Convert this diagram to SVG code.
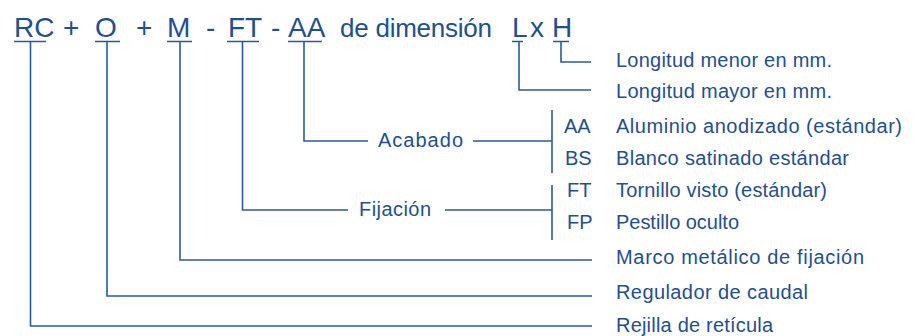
<svg xmlns="http://www.w3.org/2000/svg" width="916" height="336" viewBox="0 0 916 336">
<style>
text{font-family:"Liberation Sans",Arial,sans-serif;fill:#1f4f8f}
.top{font-size:28px}
.lbl{font-size:20px}
.ln{fill:none;stroke:#2a5a9a;stroke-width:1.6}
</style>
<rect width="916" height="336" fill="#fff"/>
<g id="code">
<text class="top" x="14" y="37">RC</text>
<text class="top" x="63" y="37">+</text>
<text class="top" x="95" y="37">O</text>
<text class="top" x="136" y="37">+</text>
<text class="top" x="167" y="37">M</text>
<text class="top" x="206" y="37">-</text>
<text class="top" x="228" y="37">FT</text>
<text class="top" x="271" y="37">-</text>
<text class="top" x="288" y="37">AA</text>
<text class="top" x="340" y="37" style="font-size:26px" textLength="152">de dimensión</text>
<text class="top" x="512" y="37">L</text>
<text class="top" x="530" y="37">x</text>
<text class="top" x="552" y="37">H</text>
</g>
<g id="underlines">
<path class="ln" d="M14 41.5H46M95 41.5H120M167 41.5H192M227 41.5H259M288 41.5H322M512 41.5H523M553 41.5H569"/>
</g>
<g id="connectors">
<path class="ln" d="M561 41.5V62H591"/>
<path class="ln" d="M519 41.5V90H591"/>
<path class="ln" d="M304 41.5V141H368M473 141H552"/>
<path class="ln" d="M552 110V173"/>
<path class="ln" d="M242.5 41.5V210H348M445 210H552"/>
<path class="ln" d="M552 185V240"/>
<path class="ln" d="M180 41.5V260H592"/>
<path class="ln" d="M107 41.5V296H592"/>
<path class="ln" d="M30.5 41.5V326H592"/>
</g>
<g id="acabado"><text class="lbl" x="378" y="147" textLength="85">Acabado</text></g>
<g id="fijacion"><text class="lbl" x="359" y="216" textLength="72">Fijación</text></g>
<g id="codes">
<text class="lbl" x="564" y="133">AA</text>
<text class="lbl" x="565" y="165">BS</text>
<text class="lbl" x="567" y="197">FT</text>
<text class="lbl" x="567" y="229">FP</text>
</g>
<g id="labels">
<text class="lbl" x="616" y="67" textLength="216">Longitud menor en mm.</text>
<text class="lbl" x="616" y="98" textLength="216">Longitud mayor en mm.</text>
<text class="lbl" x="616" y="133" textLength="286">Aluminio anodizado (estándar)</text>
<text class="lbl" x="616" y="165" textLength="233">Blanco satinado estándar</text>
<text class="lbl" x="616" y="197" textLength="211">Tornillo visto (estándar)</text>
<text class="lbl" x="616" y="229" textLength="123">Pestillo oculto</text>
<text class="lbl" x="616" y="264" textLength="248">Marco metálico de fijación</text>
<text class="lbl" x="616" y="299" textLength="192">Regulador de caudal</text>
<text class="lbl" x="616" y="332" textLength="157">Rejilla de retícula</text>
</g>
</svg>
